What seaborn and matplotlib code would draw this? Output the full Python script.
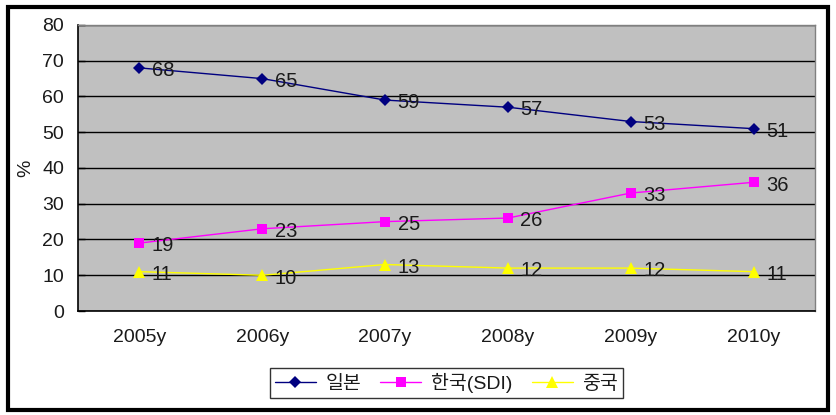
import matplotlib.pyplot as plt
from matplotlib.patches import Rectangle
from matplotlib.ticker import FixedLocator
import pandas as pd
import seaborn as sns

years = ['2005y', '2006y', '2007y', '2008y', '2009y', '2010y']
japan = [68, 65, 59, 57, 53, 51]
korea = [19, 23, 25, 26, 33, 36]
china = [11, 10, 13, 12, 12, 11]
series = ['일본', '한국(SDI)', '중국']

plotcolor = '#c0c0c0'
colors = {'일본': '#000080', '한국(SDI)': '#ff00ff', '중국': '#ffff00'}
markers = {'일본': 'D', '한국(SDI)': 's', '중국': '^'}
msizes = {'일본': 6.3, '한국(SDI)': 7, '중국': 8}

sns.set_style('white')
plt.rcParams['font.family'] = ['Liberation Sans', 'Noto Sans CJK KR', 'DejaVu Sans']
textcolor = '#1a1a1a'

df = pd.DataFrame({
    'year': years * 3,
    'value': japan + korea + china,
    'series': [s for s in series for _ in years],
})
df['pos'] = [years.index(y) for y in df.year]

fig = plt.figure(figsize=(8.36, 4.15), dpi=100)
ax = fig.add_axes([0.0933, 0.2506, 0.8816, 0.6892])
ax.set_facecolor(plotcolor)

for s in series:
    sns.lineplot(
        data=df[df.series == s], x='pos', y='value',
        color=colors[s], marker=markers[s], markersize=msizes[s],
        markeredgewidth=0, linewidth=1,
        estimator=None, sort=False, ax=ax, legend=False,
    )

# data labels to the right of each point
for _, row in df.iterrows():
    ax.annotate(f'{row.value}', (row.pos, row.value), xytext=(9, -2),
                textcoords='offset points', va='center', ha='left',
                fontsize=14.5, color=textcolor)

ax.set_xlim(-0.5, 5.5)
ax.set_ylim(0, 80)
ax.set_yticks(range(0, 81, 10))
ax.yaxis.grid(True, color='black', linewidth=1)
ax.set_axisbelow(True)

ax.xaxis.set_major_locator(FixedLocator(range(6)))
ax.set_xticklabels(years)
ax.xaxis.set_minor_locator(FixedLocator([i + 0.5 for i in range(-1, 6)]))
ax.tick_params(axis='x', which='major', length=0, pad=13, labelsize=14,
               labelcolor=textcolor)
ax.tick_params(axis='x', which='minor', direction='in', length=5, width=1, color='black')
ax.tick_params(axis='y', direction='in', length=5, width=1, color='black',
               pad=10, labelsize=14, left=True, labelcolor=textcolor)

ax.set_xlabel('')
ax.set_ylabel('%', fontsize=14, labelpad=6, color=textcolor)

for side in ['left', 'bottom']:
    ax.spines[side].set_color('black')
    ax.spines[side].set_linewidth(1.2)
for side in ['top', 'right']:
    ax.spines[side].set_color('#808080')
    ax.spines[side].set_linewidth(1)

# legend below the plot
handles = [
    plt.Line2D([], [], color=colors[s], marker=markers[s], markersize=msizes[s],
               markeredgewidth=0, linewidth=1)
    for s in series
]
leg = fig.legend(handles, series, loc='center', bbox_to_anchor=(0.534, 0.077),
                 ncol=3, frameon=True, fontsize=14, handlelength=2.1,
                 columnspacing=1.0, handletextpad=0.5, borderpad=0.25,
                 fancybox=False, borderaxespad=0)
leg.get_frame().set_edgecolor('black')
leg.get_frame().set_linewidth(1)
for t in leg.get_texts():
    t.set_color(textcolor)

# outer chart frame
fig.add_artist(Rectangle((0.0100, 0.0120), 0.9800, 0.9700, transform=fig.transFigure,
                         fill=False, edgecolor='black', linewidth=3))

fig.savefig('out.png', dpi=100)
plt.close(fig)
